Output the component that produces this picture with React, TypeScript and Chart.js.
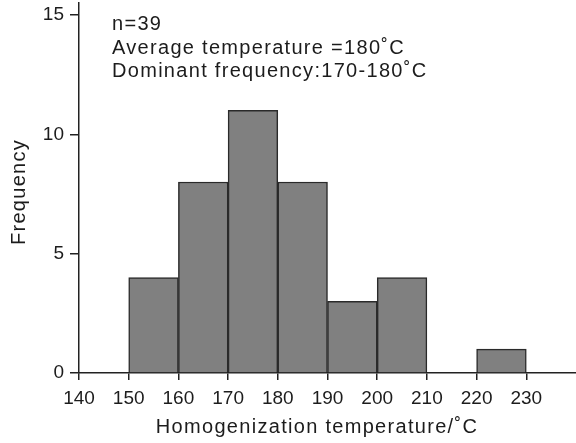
import React, { useEffect, useRef } from "react";
import { Chart, registerables } from "chart.js";

Chart.register(...registerables);

// Temperature bins (lower edge) and counts per bin
const binStarts = [150, 160, 170, 180, 190, 200, 220];
const binWidth = 10;
const counts = [4, 8, 11, 8, 3, 4, 1];

const noteLines = [
  "n=39",
  "Average temperature =180˚C",
  "Dominant frequency:170-180˚C",
];
const xTitle = "Homogenization temperature/˚C";
const yTitle = "Frequency";

const FONT = "'Liberation Sans', Arial, sans-serif";
const INK = "#1c1c1c";

const textPlugin = {
  id: "notes",
  beforeDraw(chart: any) {
    (chart.ctx as any).letterSpacing = "0px";
  },
  afterDraw(chart: any) {
    const ctx = chart.ctx as CanvasRenderingContext2D;
    ctx.save();
    (ctx as any).letterSpacing = "1.3px";
    ctx.fillStyle = INK;
    ctx.font = `20px ${FONT}`;
    ctx.textAlign = "left";
    ctx.textBaseline = "alphabetic";
    noteLines.forEach((line, i) => {
      ctx.fillText(line, 112, 30 + i * 23.5);
    });
    // axis titles
    ctx.textAlign = "center";
    ctx.textBaseline = "middle";
    ctx.fillText(xTitle, 317, 427);
    ctx.translate(19, 192);
    ctx.rotate(-Math.PI / 2);
    ctx.fillText(yTitle, 0, 0);
    ctx.restore();
  },
};

export default function App() {
  const ref = useRef<HTMLCanvasElement>(null);

  useEffect(() => {
    document.body.style.margin = "0";
    const canvas = ref.current!;
    const gridBase = {
      drawOnChartArea: false,
      drawTicks: true,
      offset: false,
      color: "#222",
      lineWidth: 1.5,
    };
    const chart = new Chart(canvas, {
      type: "bar",
      data: {
        datasets: [
          {
            data: binStarts.map((s, i) => ({ x: s + binWidth / 2, y: counts[i] })),
            backgroundColor: "#808080",
            borderColor: "#2a2a2a",
            borderWidth: 1.5,
            barPercentage: 1,
            categoryPercentage: 1,
          },
        ],
      },
      options: {
        animation: false,
        responsive: false,
        devicePixelRatio: 1,
        layout: { padding: { top: 3, right: 0, left: 0, bottom: 0 } },
        plugins: {
          legend: { display: false },
          tooltip: { enabled: false },
        },
        scales: {
          x: {
            type: "linear",
            min: 140,
            max: 240,
            offset: false,
            ticks: {
              stepSize: 10,
              color: INK,
              font: { family: FONT, size: 19 },
              padding: 7,
            },
            afterBuildTicks: (scale: any) => {
              scale.ticks = scale.ticks.filter((t: any) => t.value <= 230);
            },
            afterFit: (scale: any) => {
              scale.height = 70;
              scale.paddingLeft = 0;
              scale.paddingRight = 0;
            },
            grid: { ...gridBase, tickLength: 7 },
            border: { display: true, color: "#222", width: 1.5 },
          },
          y: {
            min: 0,
            max: 15.5,
            ticks: {
              stepSize: 5,
              includeBounds: false,
              color: INK,
              font: { family: FONT, size: 19 },
              padding: 6,
            },
            afterFit: (scale: any) => {
              scale.width = 79;
              scale.paddingTop = 0;
              scale.paddingBottom = 0;
            },
            grid: { ...gridBase, tickLength: 9 },
            border: { display: true, color: "#222", width: 1.5 },
          },
        },
      },
      plugins: [textPlugin],
    });
    return () => chart.destroy();
  }, []);

  return (
    <div style={{ width: 576, height: 443 }}>
      <canvas ref={ref} width={576} height={443} />
    </div>
  );
}
